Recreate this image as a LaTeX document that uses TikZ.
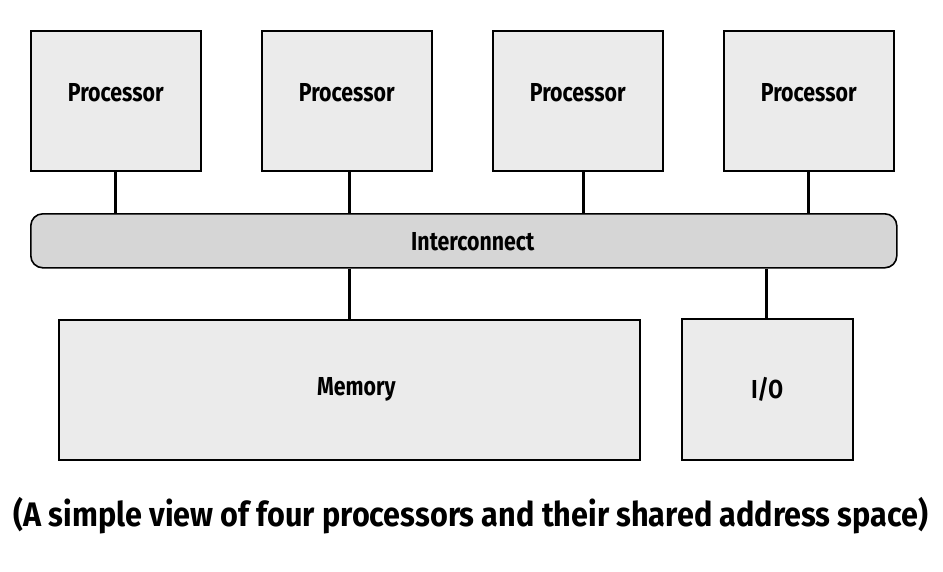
\documentclass[tikz,border=0pt]{standalone}
\usepackage{fontspec}
\setmainfont{Fira Sans}[FakeStretch=0.82]
\newfontfamily\capfont{Fira Sans}[FakeStretch=0.9]
\usetikzlibrary{calc}
\begin{document}
\begin{tikzpicture}[x=1pt,y=-1pt,
  box/.style={draw=black,line width=1.6pt,fill=boxgray,inner sep=0pt,anchor=north west},
  lbl/.style={font=\bfseries\fontsize{26}{30}\selectfont},
  conn/.style={line width=3pt,draw=black}]
\definecolor{boxgray}{HTML}{EBEBEB}
\definecolor{icgray}{HTML}{D6D6D6}
\useasboundingbox (0,0) rectangle (943,571);
\foreach \i/\x in {1/30,2/261,3/492,4/723}{
  \node[box,minimum width=170pt,minimum height=140pt] (p\i) at (\x,30) {};
  \node[lbl] (t\i) at ($(p\i.north)+(0,63)$) {Processor};
}
\node[draw=black,line width=1.6pt,fill=icgray,rounded corners=12pt,anchor=north west,minimum width=866pt,minimum height=54pt,inner sep=0pt] (ic) at (30,213) {};
\node[lbl] (tic) at ($(ic.center)+(9,1)$) {Interconnect};
\node[box,minimum width=581pt,minimum height=140pt] (mem) at (58,319) {};
\node[lbl] (tmem) at ($(mem.center)+(7,0)$) {Memory};
\node[box,minimum width=171pt,minimum height=141pt] (io) at (681,318) {};
\node[lbl] (tio) at (io.center) {I/O};
\foreach \i/\x in {1/115,2/349,3/583,4/808}{
  \coordinate (c\i) at (\x,170);
  \draw[conn] (c\i |- p\i.south) -- (c\i |- ic.north);
}
\coordinate (cm) at (349,267);
\draw[conn] (cm |- ic.south) -- (cm |- mem.north);
\coordinate (cio) at (766,267);
\draw[conn] (cio |- ic.south) -- (cio |- io.north);
\node[font=\capfont\bfseries\fontsize{34}{38}\selectfont] (cap) at (471,516) {(A simple view of four processors and their shared address space)};
\end{tikzpicture}
\end{document}
